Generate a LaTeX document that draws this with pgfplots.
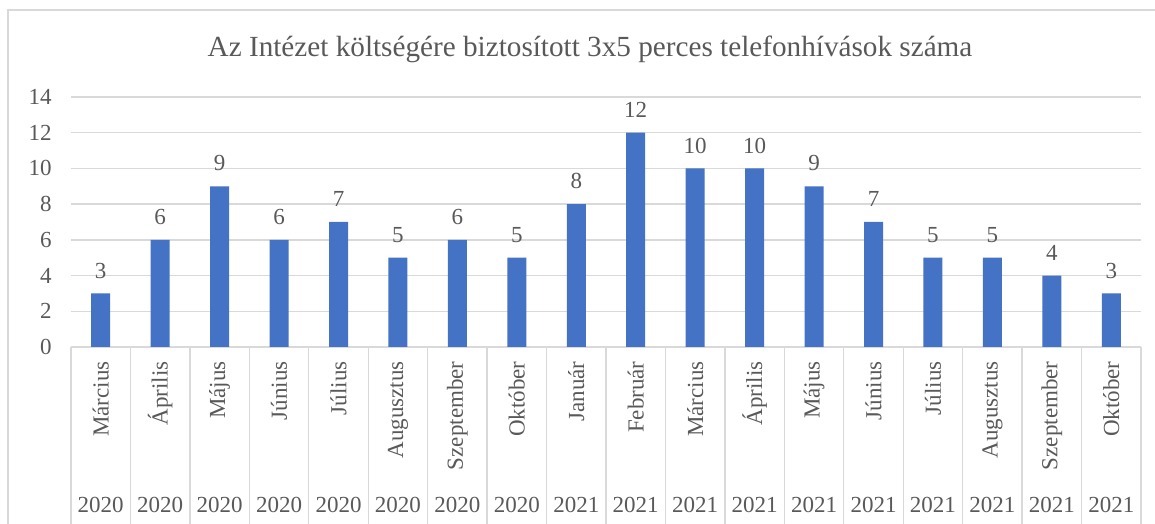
\documentclass[border=0pt]{standalone}
\usepackage{graphicx}
\usepackage{fontspec}
\setmainfont{Liberation Serif}
\usepackage{pgfplots}
\pgfplotsset{compat=1.18}
\definecolor{barblue}{HTML}{4472C4}
\definecolor{txtgray}{HTML}{595959}
\definecolor{gridgray}{HTML}{D9D9D9}
\newcommand{\rl}[1]{\rotatebox{90}{#1}}
\begin{document}
\begin{tikzpicture}[x=0.5pt,y=0.5pt]
\draw[gridgray, line width=1.2pt] (8,-10) -- (8,514) -- (1170,514);
\node[font=\fontsize{14.6pt}{16pt}\selectfont, text=txtgray] at (590,475) {Az Intézet költségére biztosított 3x5 perces telefonhívások száma};
\begin{axis}[
  at={(35.5pt,88.5pt)}, anchor=south west,
  scale only axis, width=535pt, height=125pt,
  xmin=-0.5, xmax=17.5, ymin=0, ymax=14,
  ytick={0,2,...,14},
  xtick={0,...,17},
  xticklabels={\rl{Március},\rl{Április},\rl{Május},\rl{Június},\rl{Július},\rl{Augusztus},\rl{Szeptember},\rl{Október},\rl{Január},\rl{Február},\rl{Március},\rl{Április},\rl{Május},\rl{Június},\rl{Július},\rl{Augusztus},\rl{Szeptember},\rl{Október}},
  minor xtick={-0.5,0.5,...,17.5},
  extra x ticks={0,...,17},
  extra x tick labels={2020,2020,2020,2020,2020,2020,2020,2020,2021,2021,2021,2021,2021,2021,2021,2021,2021,2021},
  extra x tick style={xticklabel style={anchor=base, yshift=-79pt}},
  xtick pos=lower, ytick pos=left,
  tick align=outside,
  major tick length=0pt, minor tick length=88.5pt,
  minor x tick style={draw=gridgray, line width=0.7pt},
  axis line style={draw=none},
  ymajorgrids, grid style={gridgray, line width=0.7pt},
  ticklabel style={font=\fontsize{11.5pt}{13pt}\selectfont, text=txtgray},
  xticklabel style={anchor=north, yshift=-3.7pt},
  yticklabel style={anchor=east, inner sep=0pt, xshift=-9.5pt},
  /pgf/number format/assume math mode=true,
  ybar, bar width=9.5pt,
  nodes near coords,
  nodes near coords style={font=\fontsize{11.5pt}{13pt}\selectfont, text=txtgray, yshift=4pt},
  clip=false,
]
\addplot[fill=barblue, draw=none] coordinates {
(0,3) (1,6) (2,9) (3,6) (4,7) (5,5) (6,6) (7,5) (8,8) (9,12) (10,10) (11,10) (12,9) (13,7) (14,5) (15,5) (16,4) (17,3)};
\end{axis}
\pgfresetboundingbox
\useasboundingbox (0,0) rectangle (1155,524);
\end{tikzpicture}
\end{document}
